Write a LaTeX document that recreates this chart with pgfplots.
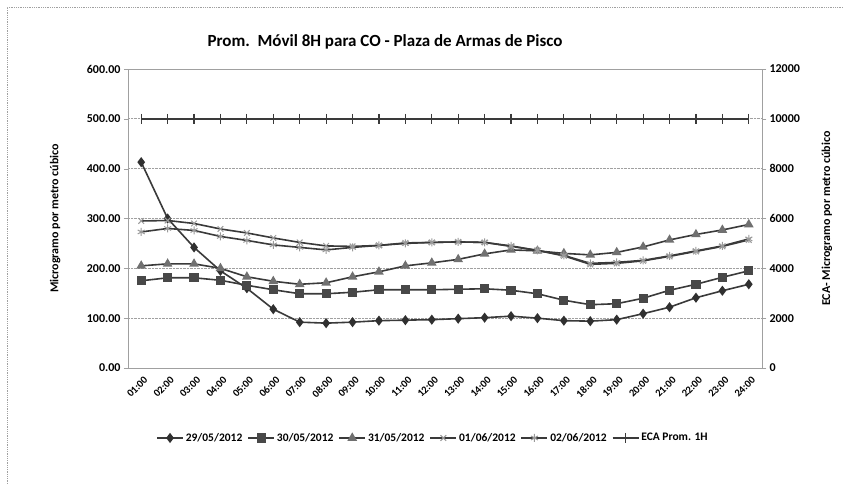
\documentclass[border=0pt]{standalone}
\usepackage{fontspec}
\setmainfont{Carlito}
\usepackage{pgfplots}
\pgfplotsset{compat=1.18}
\usepackage{pgfplotstable}

\pgfplotstableread{
h d29 d30 d31 d01 d02
1 413 175 205 295 273
2 300 181 209 296 280
3 242 181 209 290 276
4 195 176 200 279 264
5 160 166 183 271 256
6 118 157 174 261 247
7 92 149 168 252 242
8 90 149 171 245 237
9 92 152 183 244 242
10 95 157 193 246 246
11 96 157 205 251 250
12 97 157 211 252 252
13 99 158 218 253 253
14 101 159 229 252 252
15 104 156 237 244 245
16 100 149 235 236 236
17 95 136 230 225 226
18 94 127 227 208 210
19 97 129 232 210 212
20 109 140 243 215 216
21 122 156 257 224 225
22 141 168 268 234 235
23 155 182 277 244 245
24 168 195 288 257 259
}\data

\pgfplotstableread{
h eca
1 10000
2 10000
3 10000
4 10000
5 10000
6 10000
7 10000
8 10000
9 10000
10 10000
11 10000
12 10000
13 10000
14 10000
15 10000
16 10000
17 10000
18 10000
19 10000
20 10000
21 10000
22 10000
23 10000
24 10000
}\eca

\definecolor{lc}{HTML}{3A3A3A}
\definecolor{mdia}{HTML}{303030}
\definecolor{msq}{HTML}{484848}
\definecolor{mtri}{HTML}{707070}
\definecolor{mx}{HTML}{9A9A9A}
\definecolor{gridc}{HTML}{A0A0A0}

\begin{document}
\begin{tikzpicture}
\useasboundingbox (0pt,0pt) rectangle (844pt,484pt);
\fill[white] (0pt,0pt) rectangle (844pt,484pt);
\draw[gridc, densely dotted, line width=0.8pt] (7pt,0pt) -- (7pt,477pt) -- (844pt,477pt);
\begin{axis}[
  at={(128pt,116pt)}, anchor=south west,
  scale only axis, width=634pt, height=299pt,
  xmin=0.5, xmax=24.5, ymin=0, ymax=600,
  xtick={1,...,24},
  xticklabels={01:00,02:00,03:00,04:00,05:00,06:00,07:00,08:00,09:00,10:00,11:00,12:00,13:00,14:00,15:00,16:00,17:00,18:00,19:00,20:00,21:00,22:00,23:00,24:00},
  x tick label style={rotate=45, anchor=north east, font=\fontsize{10.5}{11}\selectfont\bfseries, inner sep=1pt, yshift=-3pt},
  major x tick style={draw=none},
  ytick={0,100,...,600},
  y tick label style={font=\fontsize{12}{13}\selectfont\bfseries},
  /pgf/number format/assume math mode=true,
  yticklabel={\pgfmathprintnumber[fixed,fixed zerofill,precision=2]{\tick}},
  ymajorgrids,
  grid style={gridc, densely dotted, line width=0.7pt},
  axis line style={gridc, line width=0.7pt},
  major y tick style={gridc},
  tick align=outside, major tick length=4pt,
  ylabel={Microgramo por metro cúbico},
  ylabel style={font=\fontsize{12}{13}\selectfont\bfseries, at={(axis description cs:-0.115,0.5)}, anchor=center},
  legend columns=6,
  legend style={at={(axis description cs:0.481,-0.234)}, anchor=center, draw=none, fill=none,
    font=\fontsize{11.5}{12}\selectfont\bfseries,
    /tikz/every even column/.append style={column sep=3pt}},
  legend image code/.code={\draw[#1, mark repeat=2, mark phase=2] plot coordinates {(0pt,0pt) (13pt,0pt) (26pt,0pt)};},
  every axis plot/.append style={line width=1.6pt, lc, mark options={solid}},
]
\addplot[lc, mark=diamond*, mark size=3.8pt, mark options={fill=mdia, draw=mdia}] table[x=h,y=d29] {\data};
\addlegendentry{29/05/2012}
\addplot[lc, mark=square*, mark size=3.8pt, mark options={fill=msq, draw=msq}] table[x=h,y=d30] {\data};
\addlegendentry{30/05/2012}
\addplot[lc, mark=triangle*, mark size=4pt, mark options={fill=mtri, draw=mtri}] table[x=h,y=d31] {\data};
\addlegendentry{31/05/2012}
\addplot[lc, mark=x, mark size=4pt, mark options={draw=mx, line width=1pt}] table[x=h,y=d01] {\data};
\addlegendentry{01/06/2012}
\addplot[lc, mark=asterisk, mark size=4pt, mark options={draw=mx, line width=1pt}] table[x=h,y=d02] {\data};
\addlegendentry{02/06/2012}
\addlegendimage{lc, line width=1.6pt, mark=|, mark size=5pt, mark options={draw=lc, line width=1.2pt}}
\addlegendentry{ECA Prom. 1H}
\end{axis}
\begin{axis}[
  at={(128pt,116pt)}, anchor=south west,
  scale only axis, width=634pt, height=299pt,
  xmin=0.5, xmax=24.5, ymin=0, ymax=12000,
  axis x line=none, axis y line*=right,
  scaled y ticks=false,
  ytick={0,2000,...,12000},
  yticklabel={\pgfmathprintnumber[fixed,precision=0,set thousands separator={}]{\tick}},
  y tick label style={font=\fontsize{12}{13}\selectfont\bfseries},
  /pgf/number format/assume math mode=true,
  axis line style={gridc, line width=0.7pt},
  major y tick style={gridc},
  tick align=outside, major tick length=4pt,
  ylabel={ECA- Microgramo por metro cúbico},
  ylabel style={font=\fontsize{12}{13}\selectfont\bfseries, at={(axis description cs:1.1025,0.5)}, anchor=center},
]
\addplot[lc, line width=1.6pt, mark=|, mark size=5pt, mark options={draw=lc, line width=1.2pt}] table[x=h,y=eca] {\eca};
\end{axis}
\node[font=\fontsize{17}{19}\selectfont\bfseries] at (385pt,442pt) {Prom.\ \ Móvil 8H para CO - Plaza de Armas de Pisco};
\end{tikzpicture}
\end{document}
